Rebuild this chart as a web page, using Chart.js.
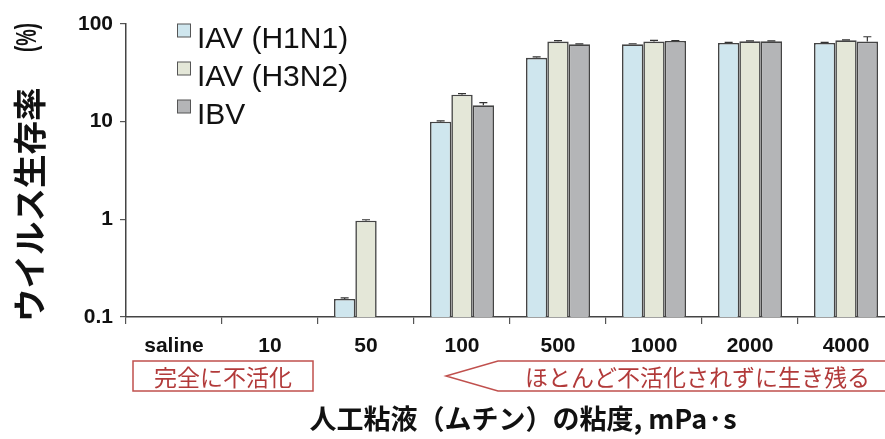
<!DOCTYPE html>
<html>
<head>
<meta charset="utf-8">
<script src="https://cdn.jsdelivr.net/npm/chart.js@4.4.1/dist/chart.umd.min.js"></script>
<style>
  html, body { margin: 0; padding: 0; background: #fff; overflow: hidden; }
  #wrap { width: 885px; height: 439px; overflow: hidden; }
</style>
</head>
<body>
<div id="wrap"><canvas id="virusChart" width="900" height="439" style="width:900px;height:439px"></canvas></div>
<script>
// mucin viscosity (mPa·s)
const categories = ["saline", "10", "50", "100", "500", "1000", "2000", "4000"];
// virus survival (%); null = no bar
const h1n1 = [null, null, 0.153, 10.0, 45, 62, 64, 64];
const h3n2 = [null, null, 0.97, 18.9, 66, 66, 66.5, 68];
const ibv = [null, null, null, 14.7, 62, 67, 66.5, 66];
const h1n1Err = [null, null, 0.004, 0.2, 1.0, 0.8, 0.8, 0.8];
const h3n2Err = [null, null, 0.02, 0.5, 1.5, 2.0, 0.8, 0.8];
const ibvErr = [null, null, null, 1.0, 0.5, 0.8, 0.8, 8];
const yTicks = [0.1, 1, 10, 100];

const seriesNames = ["IAV (H1N1)", "IAV (H3N2)", "IBV"];
const seriesColors = ["#cfe6ee", "#e4e7d8", "#b4b5b7"];
const errors = [h1n1Err, h3n2Err, ibvErr];

const red = "#c0504d";
const redText = "#b23a3a";

const extras = {
  id: "extras",
  afterDatasetsDraw(chart) {
    const ctx = chart.ctx;
    const y = chart.scales.y;
    ctx.save();
    ctx.strokeStyle = "#333";
    ctx.lineWidth = 1.2;
    chart.data.datasets.forEach((ds, di) => {
      const meta = chart.getDatasetMeta(di);
      meta.data.forEach((bar, i) => {
        const v = ds.data[i];
        const e = errors[di][i];
        if (v == null || e == null) return;
        const top = y.getPixelForValue(v);
        const up = y.getPixelForValue(v + e);
        ctx.beginPath();
        ctx.moveTo(bar.x, top);
        ctx.lineTo(bar.x, up);
        ctx.moveTo(bar.x - 4, up);
        ctx.lineTo(bar.x + 4, up);
        ctx.stroke();
      });
    });
    ctx.restore();
  },
  afterDraw(chart) {
    const ctx = chart.ctx;
    const x = chart.scales.x;
    const area = chart.chartArea;
    const step = x.getPixelForValue(1) - x.getPixelForValue(0);
    ctx.save();

    // legend
    ctx.font = "30px 'Liberation Sans', Arial, sans-serif";
    ctx.textBaseline = "middle";
    seriesNames.forEach((name, i) => {
      const ly = 39.5 + i * 38;
      ctx.fillStyle = seriesColors[i];
      ctx.fillRect(177.5, ly - 15.5, 13, 13);
      ctx.strokeStyle = "#555";
      ctx.lineWidth = 1;
      ctx.strokeRect(177.5, ly - 15.5, 13, 13);
      ctx.fillStyle = "#111";
      ctx.fillText(name, 197, ly);
    });

    // y axis title, drawn bottom-to-top
    ctx.save();
    ctx.translate(29, 322);
    ctx.rotate(-Math.PI / 2);
    ctx.textAlign = "left";
    ctx.font = "bold 33.5px 'Noto Sans CJK JP', sans-serif";
    ctx.fillText("ウイルス生存率", 0, 0);
    ctx.translate(270, 0);
    ctx.scale(0.62, 1);
    ctx.font = "bold 30px 'Liberation Sans', Arial, sans-serif";
    ctx.fillText("(%)", 0, -1);
    ctx.restore();

    // annotation boxes below the axis
    const boxTop = 361, boxBot = 391, boxMid = (boxTop + boxBot) / 2;
    ctx.strokeStyle = red;
    ctx.lineWidth = 1.5;
    const b1l = area.left + 7;
    const b1r = x.getPixelForValue(1) + step / 2 - 5;
    ctx.strokeRect(b1l, boxTop, b1r - b1l, boxBot - boxTop);
    ctx.fillStyle = redText;
    ctx.font = "23px 'Noto Sans CJK JP', sans-serif";
    ctx.textAlign = "center";
    ctx.fillText("完全に不活化", (b1l + b1r) / 2, boxMid + 1);

    const tip = x.getPixelForValue(3) - 16;
    const body = x.getPixelForValue(3) + 36;
    const endX = area.right + 20;
    ctx.beginPath();
    ctx.moveTo(endX, boxTop);
    ctx.lineTo(body, boxTop);
    ctx.lineTo(tip, boxMid);
    ctx.lineTo(body, boxBot);
    ctx.lineTo(endX, boxBot);
    ctx.stroke();
    ctx.textAlign = "right";
    ctx.fillText("ほとんど不活化されずに生き残る", x.getPixelForValue(7) + 24, boxMid + 1);

    // x axis title
    ctx.fillStyle = "#111";
    ctx.textAlign = "center";
    ctx.font = "bold 27px 'Noto Sans CJK JP', sans-serif";
    ctx.fillText("人工粘液（ムチン）の粘度, mPa·s", 523, 419);
    ctx.restore();
  }
};

new Chart(document.getElementById("virusChart"), {
  type: "bar",
  data: {
    labels: categories,
    datasets: [
      { label: seriesNames[0], data: h1n1, backgroundColor: seriesColors[0] },
      { label: seriesNames[1], data: h3n2, backgroundColor: seriesColors[1] },
      { label: seriesNames[2], data: ibv, backgroundColor: seriesColors[2] }
    ].map((d) => Object.assign(d, {
      borderColor: "#444",
      borderWidth: 1.6,
      borderSkipped: "bottom",
      categoryPercentage: 0.667,
      barPercentage: 1.0
    }))
  },
  options: {
    responsive: false,
    animation: false,
    layout: { padding: { top: 24, right: 6, left: 0, bottom: 0 } },
    plugins: {
      legend: { display: false },
      tooltip: { enabled: false }
    },
    scales: {
      x: {
        grid: {
          offset: true,
          drawOnChartArea: false,
          drawTicks: true,
          tickLength: 7,
          color: "#555",
          lineWidth: 1.2
        },
        border: { color: "#444", width: 1.5 },
        ticks: {
          color: "#111",
          padding: 10,
          maxRotation: 0,
          font: { family: "'Liberation Sans', Arial, sans-serif", size: 21, weight: "bold" }
        },
        afterFit(scale) { scale.height = 122; }
      },
      y: {
        type: "logarithmic",
        min: 0.1,
        max: 100,
        afterBuildTicks(scale) { scale.ticks = yTicks.map((v) => ({ value: v })); },
        grid: {
          drawOnChartArea: false,
          drawTicks: true,
          tickLength: 6,
          color: "#555",
          lineWidth: 1.2
        },
        border: { color: "#444", width: 1.5 },
        ticks: {
          color: "#111",
          padding: 7,
          font: { family: "'Liberation Sans', Arial, sans-serif", size: 21, weight: "bold" },
          callback: (v) => String(v)
        },
        afterFit(scale) { scale.width = 126; }
      }
    }
  },
  plugins: [extras]
});
</script>
</body>
</html>
